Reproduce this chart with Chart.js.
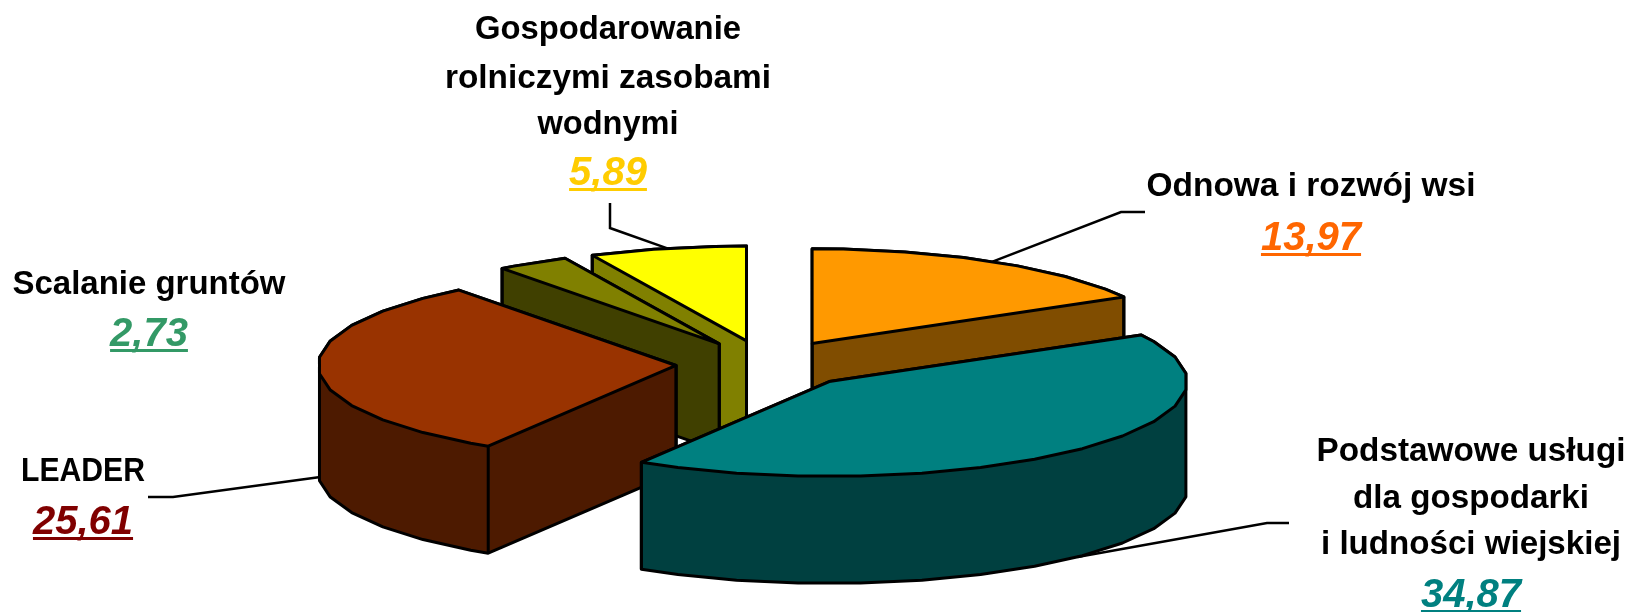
<!DOCTYPE html>
<html>
<head>
<meta charset="utf-8">
<title>Wykres</title>
<style>
  html, body { margin: 0; background: #fff; }
  canvas { display: block; }
</style>
<script src="https://cdn.jsdelivr.net/npm/chart.js@4"></script>
</head>
<body>
<canvas id="canvas1" width="1632" height="612"></canvas>
<script>
const categories = [
  ['Odnowa i rozwój wsi'],
  ['Podstawowe usługi', 'dla gospodarki', 'i ludności wiejskiej'],
  ['LEADER'],
  ['Scalanie gruntów'],
  ['Gospodarowanie', 'rolniczymi zasobami', 'wodnymi'],
];
const values = [13.97, 34.87, 25.61, 2.73, 5.89];

const topColors = ['#FF9900', '#008080', '#993300', '#808000', '#FFFF00'];
const wallColors = ['#804D00', '#004040', '#4D1A00', '#404000', '#808000'];
const valueColors = ['#FF6600', '#008080', '#800000', '#339966', '#FFCC00'];

// pie look
const RADIUS = 358;
const SQUASH = 0.265;
const DEPTH = 107;
const EXPLODE = 90.5;
const RIM_STEP = Math.PI / 18; // the original's rim is made of short flats

// label layout: centre x, baseline + width of each text line, baseline of the value
const labelX = [1311, 1471, 83, 149, 608];
const labelLineY = [[196], [461, 508, 554], [481], [294], [39, 88, 134]];
const labelLineW = [[329], [309, 236, 300], [124], [273], [266, 326, 141]];
const labelValueY = [250, 607, 534, 346, 185];
// leader bends/ends, and how far down the wall the leader touches the slice
const leaderPath = [
  [[1121, 212], [1145, 212]],
  [[1267, 523], [1289, 523]],
  [[173, 497], [148, 497]],
  null,
  [[610, 228], [610, 203]],
];
const leaderDrop = [0, DEPTH, DEPTH, 0, 0];

function slice(arc) {
  const p = arc.getProps(['x', 'y', 'startAngle', 'endAngle', 'outerRadius']);
  const mid = (p.startAngle + p.endAngle) / 2;
  return {
    cx: p.x + Math.cos(mid) * EXPLODE,
    cy: p.y + Math.sin(mid) * EXPLODE * SQUASH,
    r: p.outerRadius,
    start: p.startAngle,
    end: p.endAngle,
    mid: mid,
  };
}

function rimPoint(s, angle) {
  return [s.cx + Math.cos(angle) * s.r, s.cy + Math.sin(angle) * s.r * SQUASH];
}

// apex, then the rim from start to end
function wedgePoints(s) {
  const pts = [[s.cx, s.cy], rimPoint(s, s.start)];
  let a = (Math.floor(s.start / RIM_STEP) + 0.5) * RIM_STEP;
  for (; a < s.end; a += RIM_STEP) {
    if (a > s.start) pts.push(rimPoint(s, a));
  }
  pts.push(rimPoint(s, s.end));
  return pts;
}

// the wall is the convex hull of the top and the bottom face
function hull(points) {
  const pts = points.slice().sort((a, b) => a[0] - b[0] || a[1] - b[1]);
  const cross = (o, a, b) => (a[0] - o[0]) * (b[1] - o[1]) - (a[1] - o[1]) * (b[0] - o[0]);
  const half = (list) => {
    const out = [];
    list.forEach((p) => {
      while (out.length > 1 && cross(out[out.length - 2], out[out.length - 1], p) <= 0) out.pop();
      out.push(p);
    });
    out.pop();
    return out;
  };
  return half(pts).concat(half(pts.slice().reverse()));
}

function polygon(ctx, pts) {
  ctx.beginPath();
  pts.forEach(([x, y], i) => (i ? ctx.lineTo(x, y) : ctx.moveTo(x, y)));
  ctx.closePath();
}

const pie3d = {
  id: 'pie3d',
  beforeDatasetDraw(chart, args) {
    const ctx = chart.ctx;
    const arcs = args.meta.data.map((arc, i) => ({ i: i, s: slice(arc), fill: arc.options.backgroundColor }));
    arcs.sort((a, b) => a.s.cy - b.s.cy);

    ctx.save();
    ctx.strokeStyle = '#000';
    ctx.lineJoin = 'round';
    ctx.lineWidth = 3;
    arcs.forEach(({ i, s, fill }) => {
      const top = wedgePoints(s);
      const bottom = top.map(([x, y]) => [x, y + DEPTH]);

      polygon(ctx, hull(top.concat(bottom)));
      ctx.fillStyle = wallColors[i];
      ctx.fill();
      ctx.stroke();

      // vertical edges that don't run behind the top face
      polygon(ctx, top);
      const edges = [top[0], top[1], top[top.length - 1]].filter(([x, y]) => !ctx.isPointInPath(x, y + 3));
      edges.forEach(([x, y]) => {
        ctx.beginPath();
        ctx.moveTo(x, y);
        ctx.lineTo(x, y + DEPTH);
        ctx.stroke();
      });

      polygon(ctx, top);
      ctx.fillStyle = fill;
      ctx.fill();
      ctx.stroke();
    });
    ctx.restore();
    return false;
  },
  afterDraw(chart) {
    const ctx = chart.ctx;
    const arcs = chart.getDatasetMeta(0).data;
    ctx.save();
    ctx.textAlign = 'center';
    ctx.textBaseline = 'alphabetic';
    categories.forEach((lines, i) => {
      // leader line
      if (leaderPath[i]) {
        const s = slice(arcs[i]);
        const [x, y] = rimPoint(s, s.mid);
        ctx.strokeStyle = '#000';
        ctx.lineWidth = 2.5;
        ctx.beginPath();
        ctx.moveTo(x, y + leaderDrop[i]);
        leaderPath[i].forEach(([px, py]) => ctx.lineTo(px, py));
        ctx.stroke();
      }

      ctx.fillStyle = '#000';
      ctx.font = 'bold 34px "Liberation Sans"';
      lines.forEach((line, j) => ctx.fillText(line, labelX[i], labelLineY[i][j], labelLineW[i][j]));

      // value, underlined
      const text = values[i].toFixed(2).replace('.', ',');
      ctx.fillStyle = valueColors[i];
      ctx.font = 'italic bold 40px "Liberation Sans"';
      ctx.fillText(text, labelX[i], labelValueY[i]);
      const w = ctx.measureText(text).width;
      ctx.fillRect(labelX[i] - w / 2, labelValueY[i] + 3, w, 3);
    });
    ctx.restore();
  },
};

new Chart(document.getElementById('canvas1'), {
  type: 'pie',
  data: {
    labels: categories.map((c) => c.join(' ')),
    datasets: [{ data: values, backgroundColor: topColors }],
  },
  options: {
    responsive: false,
    animation: false,
    radius: RADIUS,
    layout: { padding: { top: 116.6, right: 99 } },
    plugins: {
      legend: { display: false },
      tooltip: { enabled: false },
    },
  },
  plugins: [pie3d],
});
</script>
</body>
</html>
